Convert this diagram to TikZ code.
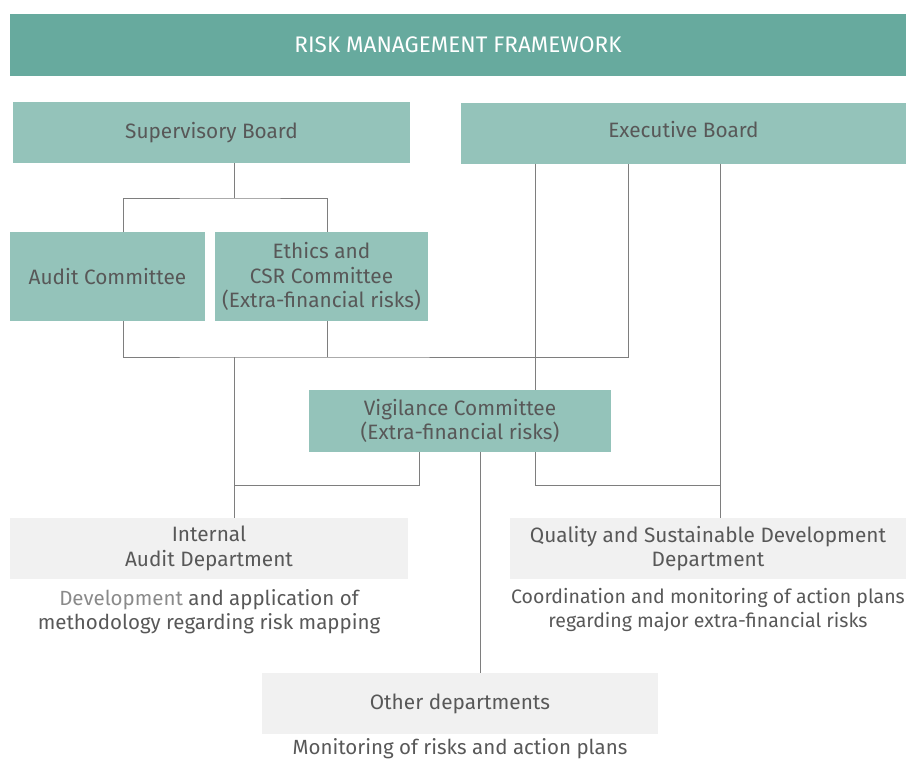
\documentclass[tikz,border=0pt]{standalone}
\usepackage{fontspec}
\setmainfont{Fira Sans}
\definecolor{barteal}{HTML}{67AA9E}
\definecolor{boxteal}{HTML}{94C3BA}
\definecolor{boxgray}{HTML}{F1F1F1}
\definecolor{txt}{HTML}{585858}
\definecolor{txtlight}{HTML}{8A8A8A}
\definecolor{linegray}{HTML}{7E7E7E}
\begin{document}
\begin{tikzpicture}[x=1pt,y=-1pt,
  every node/.style={inner sep=0pt,outer sep=0pt,font=\fontsize{20.8}{24.5}\selectfont,text=txt,align=center},
  tealbox/.style={fill=boxteal,minimum width=#1},
  graybox/.style={fill=boxgray,minimum width=#1},
  note/.style={font=\fontsize{20.5}{24}\selectfont},
  conn/.style={draw=linegray,line width=1pt}]
\useasboundingbox (0,0) rectangle (908,760);
% boxes
\node[fill=barteal,minimum width=896pt,minimum height=62pt,text=white,font=\fontsize{22.5}{26}\selectfont] (title) at (458,45) {RISK MANAGEMENT FRAMEWORK};
\node[tealbox=397pt,minimum height=61pt] (sup) at (211.5,132.5) {Supervisory Board};
\node[tealbox=445pt,minimum height=61pt] (exe) at (683.5,133) {\strut Executive Board};
\node[tealbox=195pt,minimum height=89pt] (audit) at (107.5,276.5) {Audit Committee};
\node[tealbox=213pt,minimum height=89pt] (ethics) at (321.5,276.5) {Ethics and\\CSR Committee\\(Extra-financial risks)};
\node[tealbox=302pt,minimum height=62pt] (vig) at (460,421) {Vigilance Committee\\(Extra-financial risks)};
\node[graybox=398pt,minimum height=61pt] (ia) at (209,548.5) {Internal\\Audit Department};
\node[graybox=396pt,minimum height=61pt] (qsd) at (708,548.5) {Quality and Sustainable Development\\Department};
\node[graybox=396pt,minimum height=61pt] (other) at (460,703.5) {Other departments};
% notes
\node[note] (ianote) at (209,612) {\textcolor{txtlight}{Development} and application of\\methodology regarding risk mapping};
\node[note,font=\fontsize{19.5}{24}\selectfont] (qsdnote) at (708,610) {Coordination and monitoring of action plans\\regarding major extra-financial risks};
\node[note] (othernote) at (460,749) {Monitoring of risks and action plans};
% junction coordinates
\coordinate (xA) at (123,0);
\coordinate (xE) at (327,0);
\coordinate (xS) at (234.5,0);
\coordinate (xX) at (628,0);
\coordinate (xV) at (535,0);
\coordinate (xQ) at (720,0);
\coordinate (xL) at (419,0);
\coordinate (xO) at (480,0);
\coordinate (jtop) at (234.5,198);
\coordinate (jmid) at (234.5,357);
\coordinate (jlow) at (234.5,485);
\coordinate (jright) at (720,485);
% connectors
\draw[conn] (sup.south -| xS) -- (jtop);
\draw[conn] (audit.north -| xA) |- (jtop) -| (ethics.north -| xE);
\draw[conn] (audit.south -| xA) |- (jmid) -- (jmid -| xX) -- (exe.south -| xX);
\draw[conn] (ethics.south -| xE) -- (jmid -| xE);
\draw[conn] (jmid) -- (ia.north -| xS);
\draw[conn] (exe.south -| xV) -- (vig.north -| xV);
\draw[conn] (exe.south -| xQ) -- (qsd.north -| xQ);
\draw[conn] (vig.south -| xL) |- (jlow);
\draw[conn] (vig.south -| xV) |- (jright);
\draw[conn] (vig.south -| xO) -- (other.north -| xO);
\end{tikzpicture}
\end{document}
